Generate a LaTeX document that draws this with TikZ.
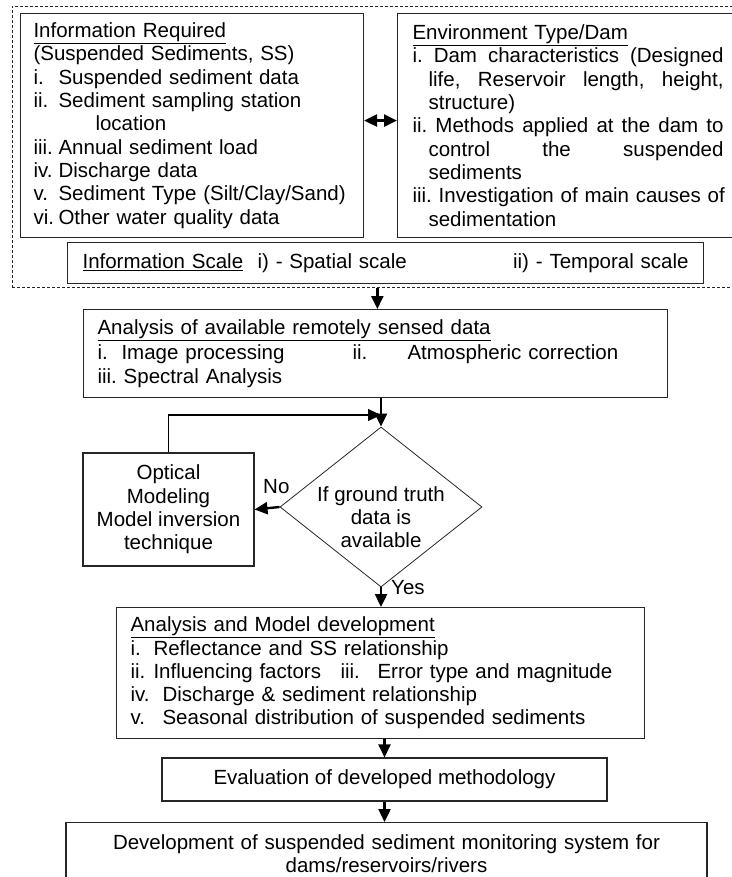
\documentclass[tikz,border=0pt]{standalone}
\usepackage{fontspec}
\setmainfont{Liberation Sans}
\usetikzlibrary{positioning,shapes.geometric,arrows.meta}
\newcommand{\bodyfont}{\fontsize{20.5pt}{23.3pt}\selectfont\frenchspacing}
\newcommand{\itemlab}[2][25pt]{\makebox[#1][l]{#2}}

\begin{document}
\begin{tikzpicture}[x=1pt,y=-1pt,node distance=20pt,>={Triangle[length=13pt,width=12pt]},font=\bodyfont]
\tikzstyle{box}=[rectangle,draw=black!85,line width=1.1pt,inner ysep=0pt,align=left]
\tikzstyle{grp}=[draw=black!85,dash pattern=on 3pt off 2pt,line width=0.7pt,inner sep=0pt]
\tikzstyle{flow}=[line width=2.4pt,->]
\tikzstyle{twoway}=[line width=2.4pt,<->]
\tikzstyle{back}=[line width=1.1pt,->]
\useasboundingbox (0,0) rectangle (731,877);
% dashed group round the information boxes
\node[grp,anchor=north west,minimum width=730pt,minimum height=281pt] (frame) at (12,6) {};
\node[box,anchor=north west,minimum width=343pt,minimum height=224pt,text width=317pt,inner xsep=13pt] (req) at (20,13) {%
\underline{Information Required}\\
(Suspended Sediments, SS)\\
\itemlab{i.}Suspended sediment data\\
\itemlab{ii.}Sediment sampling station\\
\hspace*{62pt}location\\
\itemlab{iii.}Annual sediment load\\
\itemlab{iv.}Discharge data\\
\itemlab{v.}Sediment Type (Silt/Clay/Sand)\\
\itemlab{vi.}Other water quality data};
% justified lines: words spread with \hfill
\node[box,anchor=north west,minimum width=341pt,minimum height=224pt,text width=311pt,inner xsep=15pt] (env) at (397,13) {%
\underline{Environment Type/Dam}\\
\makebox[311pt][l]{i.\hfill Dam\hfill characteristics\hfill (Designed}\\
\hspace*{16pt}\makebox[295pt][l]{life,\hfill Reservoir\hfill length,\hfill height,}\\
\hspace*{16pt}structure)\\
\makebox[311pt][l]{ii.\hfill Methods\hfill applied\hfill at\hfill the\hfill dam\hfill to}\\
\hspace*{16pt}\makebox[295pt][l]{control\hfill the\hfill suspended}\\
\hspace*{16pt}sediments\\
\makebox[311pt][l]{iii. Investigation of main causes of}\\
\hspace*{16pt}sedimentation};
\node[box,anchor=north west,minimum width=636pt,minimum height=41pt,text width=606pt,inner xsep=15pt] (infoscale) at (67,242) {%
\makebox[606pt][l]{\itemlab[175pt]{\underline{Information Scale}}i) - Spatial scale\hfill ii) - Temporal scale}};
% remote sensing step and the ground truth check
\node[box,anchor=north west,minimum width=584pt,minimum height=88pt,text width=556pt,inner xsep=14pt] (rs) at (83,309) {%
\underline{Analysis of available remotely sensed data}\\[2pt]
\itemlab[24pt]{i.}\itemlab[231pt]{Image processing}\itemlab[55pt]{ii.}Atmospheric correction\\
iii. Spectral Analysis};
\node[diamond,draw=black!85,line width=0.8pt,minimum width=202pt,minimum height=160pt,inner sep=0pt] (check) at (381,507) {};
\node[align=center] (checktext) at ([yshift=-10pt]check.center) {If ground truth\\data is\\available};
\node[box,align=center,minimum width=171pt,minimum height=113pt,inner xsep=4pt] (optic) at (168.5,509.5) {Optical\\Modeling\\Model inversion\\technique};
\node[inner sep=0pt,above left=13.5pt and -10pt of check.west] (nolab) {No};
\node[inner sep=0pt,right=10pt of check.south] (yeslab) {Yes};
% model development and results
\node[box,anchor=north west,minimum width=528pt,minimum height=131pt,text width=500pt,inner xsep=14pt] (model) at (116,607) {%
\underline{Analysis and Model development}\\
\itemlab[23pt]{i.}Reflectance and SS relationship\\
\itemlab[23pt]{ii.}\itemlab[187pt]{Influencing factors}\itemlab[37pt]{iii.}Error type and magnitude\\
\itemlab[32pt]{iv.}Discharge \& sediment relationship\\
\itemlab[32pt]{v.}Seasonal distribution of suspended sediments};
\node[box,align=center,minimum width=445pt,minimum height=43pt] (eval) at (384.5,779.5) {Evaluation of developed methodology};
\node[box,align=center,anchor=north,minimum width=641pt,text width=620pt,inner ysep=12pt] (dev) at (386.5,822) {Development of suspended sediment monitoring system for\\dams/reservoirs/rivers};
\coordinate (merge) at (381,415);
\draw[twoway] ([yshift=5pt]req.east) -- ([yshift=5pt]env.west);
\draw[flow] (frame.south) -- (frame.south |- rs.north);
\draw[flow] (check.north |- rs.south) -- (check.north);
\draw[back] (optic.north) |- (merge);
\draw[flow] (check.west) -- (optic.east);
\draw[flow] (check.south) -- (check.south |- model.north);
\draw[flow] (eval.north |- model.south) -- (eval.north);
\draw[flow] (eval.south) -- (eval.south |- dev.north);
\end{tikzpicture}
\end{document}
